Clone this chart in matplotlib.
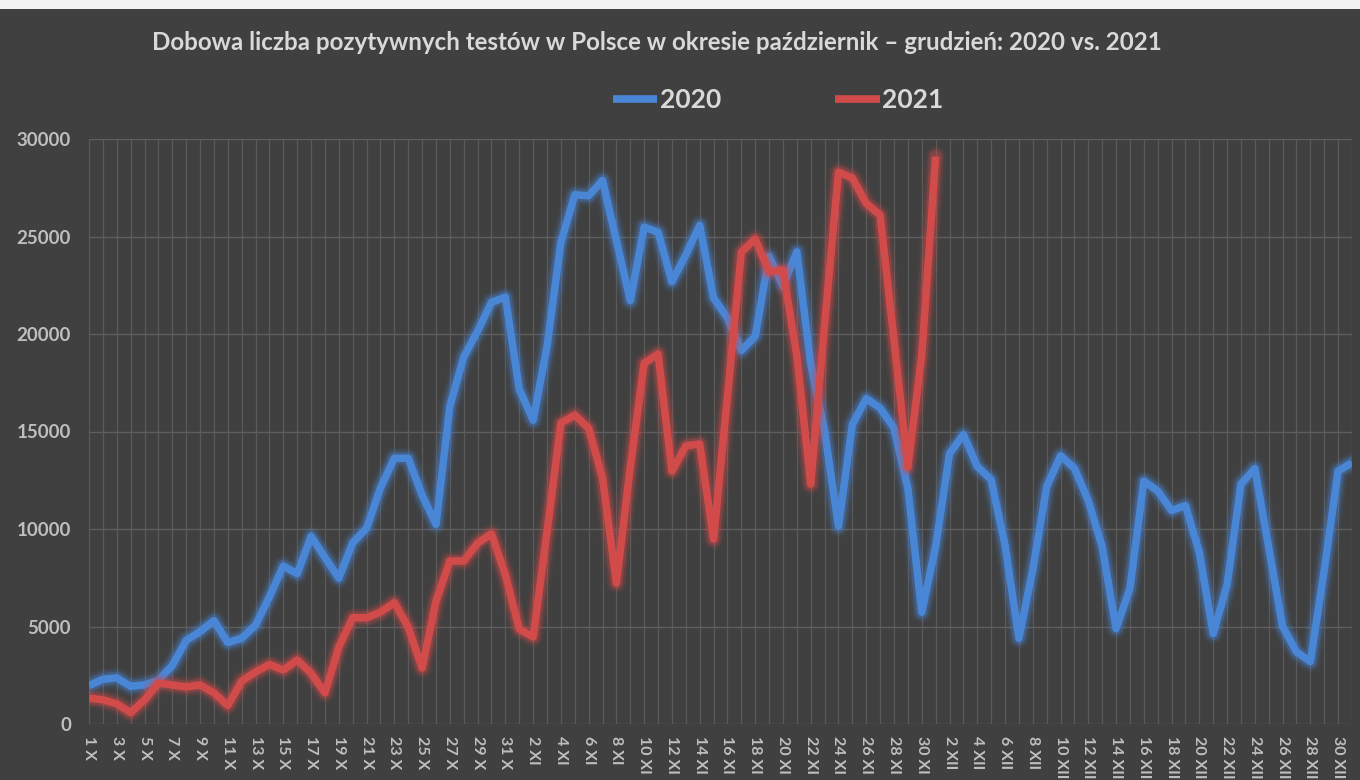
import matplotlib
matplotlib.use("Agg")
import matplotlib.pyplot as plt
import matplotlib.patheffects as pe
from matplotlib.patches import Rectangle
import numpy as np

# ---- data ----
months = ["X", "XI", "XII"]
month_days = [31, 30, 31]
day_labels = [f"{d} {m}" for m, n in zip(months, month_days) for d in range(1, n + 1)]

cases_2020 = [
    1967, 2292, 2367, 1934, 2006, 2236, 3003, 4280, 4739, 5300, 4178, 4394, 5068, 6526, 8099, 7705,
    9622, 8536, 7482, 9291, 10040, 12107, 13632, 13628, 11742, 10241, 16300, 18820, 20156, 21629, 21897,
    17171, 15578, 19364, 24692, 27143, 27086, 27875, 24785, 21713, 25484, 25221, 22683, 24051, 25571, 21854,
    20816, 19152, 19883, 23975, 22464, 24213, 18467, 15002, 10139, 15362, 16687, 16203, 15178, 12088, 5733,
    9105, 13855, 14838, 13210, 12530, 9176, 4399, 7910, 12168, 13755, 13115, 11450, 9100, 4896, 6950, 12454,
    11950, 10950, 11200, 8800, 4634, 7150, 12300, 13100, 9050, 5000, 3700, 3200, 7900, 12975, 13400,
]
cases_2021 = [
    1330, 1240, 1030, 580, 1230, 2100, 2000, 1900, 2000, 1600, 950, 2200, 2670, 3050, 2770, 3280,
    2600, 1600, 3950, 5450, 5450, 5740, 6220, 4970, 2870, 6300, 8360, 8360, 9280, 9750, 7650,
    4870, 4460, 9850, 15440, 15840, 15170, 12620, 7230, 13180, 18500, 18980, 12970, 14260, 14360, 9480,
    16800, 24200, 24870, 23190, 23280, 18870, 12300, 20500, 28300, 28000, 26700, 26100, 19700, 13170, 18900,
    29100,
]
series_names = ["2020", "2021"]
title = "Dobowa liczba pozytywnych testów w Polsce w okresie październik – grudzień: 2020 vs. 2021"
y_ticks = [0, 5000, 10000, 15000, 20000, 25000, 30000]

# ---- style ----
BG = "#404040"
TXT = "#bfbfbf"
BLUE = "#4a86d6"
RED = "#d24b4b"
FONT = ["Lato", "DejaVu Sans"]

plt.rcParams["font.family"] = FONT

fig = plt.figure(figsize=(13.6, 7.8), dpi=100, facecolor=BG)
# thin light strip at the very top, as in the screenshot
fig.patches.append(Rectangle((0, 1 - 9 / 780), 1, 9 / 780, transform=fig.transFigure,
                             facecolor="#f2f2f2", edgecolor="none", zorder=0))

ax = fig.add_axes([89 / 1360, 1 - 724 / 780, (1352 - 89) / 1360, (724 - 139) / 780])
ax.set_facecolor(BG)

x20 = np.arange(len(cases_2020))
x21 = np.arange(len(cases_2021))


def glow(color):
    return [
        pe.Stroke(linewidth=15, foreground=color, alpha=0.08, joinstyle="round", capstyle="round"),
        pe.Stroke(linewidth=12, foreground=color, alpha=0.14, joinstyle="round", capstyle="round"),
        pe.Stroke(linewidth=9, foreground=color, alpha=0.30, joinstyle="round", capstyle="round"),
        pe.Normal(),
    ]


l1, = ax.plot(x20, cases_2020, color=BLUE, lw=5.4, solid_joinstyle="round",
              solid_capstyle="butt", zorder=3, label=series_names[0])
l1.set_path_effects(glow(BLUE))
l2, = ax.plot(x21, cases_2021, color=RED, lw=5.4, solid_joinstyle="round",
              solid_capstyle="butt", zorder=4, label=series_names[1])
l2.set_path_effects(glow(RED))

ax.set_xlim(0, len(day_labels) - 1)
ax.set_ylim(0, 30000)
ax.set_yticks(y_ticks)
ax.set_yticklabels([str(v) for v in y_ticks])

# vertical gridlines at every day
ax.set_xticks(np.arange(len(day_labels)), minor=True)
ax.set_xticks(np.arange(0, len(day_labels), 2))
ax.set_xticklabels(day_labels[::2], rotation=-90, va="top", ha="center")

ax.grid(True, which="both", axis="x", color="#5a5a5a", lw=0.9, zorder=0)
ax.grid(True, which="major", axis="y", color="#5e5e5e", lw=1.0, zorder=0)
ax.set_axisbelow(True)

for s in ax.spines.values():
    s.set_visible(False)

ax.tick_params(axis="both", which="both", length=0, colors=TXT)
ax.tick_params(axis="y", pad=13, labelsize=13.5)
ax.tick_params(axis="x", pad=9, labelsize=11.5)
for lab in ax.get_yticklabels() + ax.get_xticklabels():
    lab.set_fontweight("bold")

fig.text(657 / 1360, 1 - 43 / 780, title, ha="center", va="center",
         fontsize=17.4, fontweight="bold", color="#d9d9d9")

leg = fig.legend(handles=[l1, l2], labels=series_names, loc="center",
                 bbox_to_anchor=(778 / 1360, 1 - 100 / 780), ncol=2, frameon=False,
                 handlelength=1.7, handletextpad=0.1, columnspacing=4.3,
                 prop={"size": 19, "weight": "bold"})
for t in leg.get_texts():
    t.set_color("#d9d9d9")
for h in leg.get_lines():
    h.set_path_effects([])
    h.set_linewidth(5.5)

fig.savefig("out.png", dpi=100, facecolor=BG)
